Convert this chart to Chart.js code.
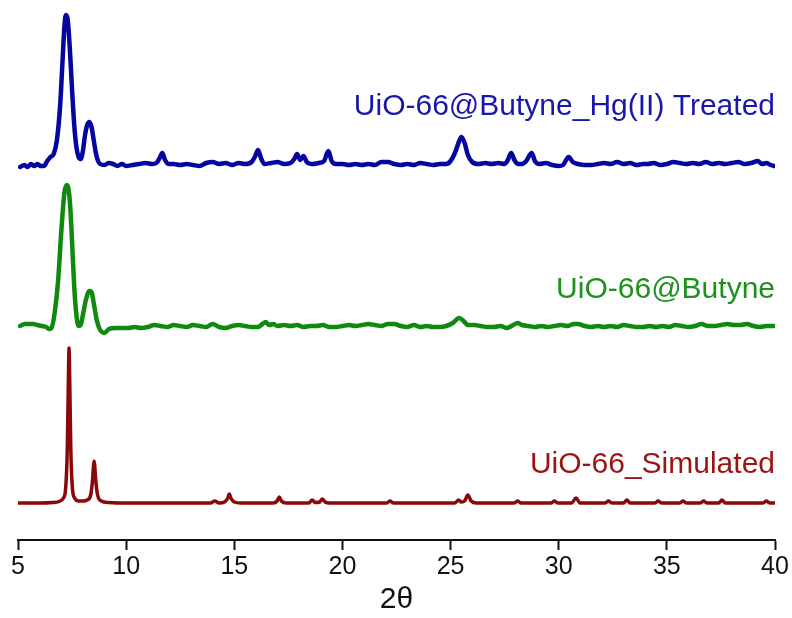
<!DOCTYPE html>
<html>
<head>
<meta charset="utf-8">
<script src="https://cdn.jsdelivr.net/npm/chart.js@4.4.1/dist/chart.umd.min.js"></script>
<style>
  html, body { margin: 0; padding: 0; background: #ffffff; }
  #wrap { width: 792px; height: 618px; position: relative; }
</style>
</head>
<body>
<div id="wrap"><canvas id="c" width="792" height="618"></canvas></div>
<script>
// ---- Data (2θ in degrees, intensity in arbitrary units above each trace's baseline) ----
const seriesNames = ["UiO-66@Butyne_Hg(II) Treated", "UiO-66@Butyne", "UiO-66_Simulated"];
const seriesOffsets = [375, 213, 37];
const labelLevels = [433, 250, 75];
const xTicks = [5, 10, 15, 20, 25, 30, 35, 40];

const treatedX = [5.1,5.3,5.45,5.6,5.75,5.9,6.05,6.2,6.35,6.5,6.65,6.8,6.95,7.05,7.15,7.22,7.3,7.4,7.5,7.6,7.7,7.8,7.9,8.0,8.1,8.2,8.3,8.4,8.5,8.6,8.7,8.8,9.0,9.2,9.4,9.6,9.8,10.0,10.3,10.6,10.9,11.2,11.4,11.55,11.67,11.8,11.95,12.2,12.5,12.8,13.1,13.4,13.7,14.0,14.3,14.6,14.9,15.2,15.5,15.8,15.95,16.1,16.25,16.4,16.7,17.0,17.3,17.6,17.8,17.9,18.05,18.2,18.35,18.6,18.9,19.15,19.35,19.5,19.7,20.0,20.3,20.6,20.9,21.2,21.5,21.8,22.1,22.4,22.7,23.0,23.3,23.6,23.9,24.2,24.5,24.8,25.0,25.2,25.4,25.5,25.65,25.8,26.0,26.3,26.6,26.9,27.2,27.5,27.65,27.8,27.95,28.1,28.3,28.5,28.75,28.9,29.1,29.4,29.7,30.0,30.2,30.46,30.65,30.9,31.2,31.5,31.8,32.1,32.4,32.7,33.0,33.3,33.6,33.9,34.1,34.4,34.7,35.0,35.3,35.6,35.9,36.2,36.5,36.8,37.1,37.4,37.7,38.0,38.3,38.6,38.9,39.2,39.4,39.6,39.8,39.95];
const treatedY = [-2,0,-2,1,-1,1,-1,-1,4,8,11,25,60,100,140,150,145,115,75,40,18,8,6,14,30,40,43,38,25,12,4,1,0,2,1,-1,1,-1,0,1,2,1,2,7,12,5,1,1,0,1,0,-1,2,3,1,2,0,2,1,3,8,15,6,1,2,3,1,2,7,11,5,9,3,1,2,4,14,4,1,1,0,1,0,1,0,3,3,1,0,1,0,2,1,0,1,1,4,12,24,28,22,10,3,1,2,1,2,1,5,12,5,1,1,4,12,4,1,2,0,-1,0,8,3,1,0,0,1,2,1,3,1,2,0,1,1,2,0,1,3,2,1,2,1,3,1,2,1,2,3,1,2,4,1,2,0,-1];

const butyneX = [5.1,5.3,5.5,5.7,5.9,6.1,6.3,6.45,6.55,6.7,6.85,7.0,7.15,7.27,7.4,7.5,7.6,7.7,7.8,7.9,8.0,8.15,8.3,8.4,8.5,8.65,8.8,9.0,9.2,9.5,9.8,10.1,10.4,10.7,11.0,11.3,11.6,11.9,12.2,12.5,12.8,13.1,13.4,13.7,14.0,14.3,14.6,14.9,15.2,15.5,15.8,16.1,16.3,16.45,16.6,16.8,17.0,17.3,17.6,17.9,18.2,18.5,18.8,19.1,19.4,19.7,20.0,20.3,20.6,20.9,21.2,21.5,21.8,22.1,22.4,22.7,23.0,23.3,23.6,23.9,24.2,24.5,24.8,25.1,25.4,25.6,25.8,26.1,26.4,26.7,27.0,27.3,27.6,27.9,28.1,28.3,28.6,28.9,29.2,29.5,29.8,30.1,30.4,30.7,30.9,31.2,31.5,31.8,32.1,32.4,32.7,33.0,33.3,33.6,33.9,34.2,34.5,34.8,35.1,35.4,35.7,36.0,36.3,36.6,36.9,37.2,37.5,37.8,38.1,38.4,38.7,39.0,39.3,39.6,39.95];
const butyneY = [1,3,3,3,2,1,0,-2,-1,15,45,95,135,142,125,85,40,12,1,2,12,28,36,35,24,6,-3,-6,-2,-1,-1,-1,0,-1,0,2,1,0,2,1,0,2,1,0,3,0,-1,1,2,1,0,0,3,5,2,3,1,2,1,2,0,1,1,2,0,0,1,2,1,2,3,2,1,3,3,1,0,2,0,1,0,0,1,4,9,6,2,2,1,0,0,1,-1,2,4,2,1,0,1,0,1,2,1,3,3,1,0,1,0,1,0,2,1,0,0,1,0,1,0,2,1,0,1,3,1,1,2,3,2,2,3,1,0,1,1];

const simX = [5.0,6.0,6.6,6.9,7.1,7.2,7.28,7.33,7.36,7.39,7.44,7.52,7.62,7.8,8.0,8.2,8.36,8.45,8.49,8.52,8.55,8.59,8.68,8.85,9.2,10.0,13.9,14.1,14.3,14.55,14.7,14.77,14.84,15.0,15.3,16.8,16.98,17.08,17.18,17.4,18.45,18.6,18.75,18.95,19.07,19.2,19.4,22.05,22.2,22.35,25.2,25.37,25.5,25.65,25.8,25.95,26.2,27.95,28.1,28.25,29.65,29.8,29.95,30.6,30.8,30.98,32.15,32.3,32.45,33.0,33.15,33.3,34.45,34.6,34.75,35.6,35.75,35.9,36.55,36.7,36.85,37.4,37.55,37.7,39.45,39.6,39.75,40.0];
const simY = [0,0,0.5,1.5,5,14,55,125,155,125,55,14,5,2,2,3,8,24,37,42,37,24,8,2,0.5,0,0,2,0,1,5,9,5,1,0,0,2,6,2,0,0,3,0.5,1,4,1,0,0,2,0,0,3,1,2,8,2,0,0,2,0,0,2,0,0,5,0,0,2,0,0,3,0,0,2,0,0,2,0,0,2,0,0,3,0,0,2,0,0];

const lineColors = ["#0505a0", "#0f8a0f", "#8b0808"];
const labelColors = ["#1818a8", "#1c921c", "#9a1414"];
const lineWidths = [4.5, 4.5, 3.5];

function build(xs, ys, off) { return xs.map((v, i) => ({ x: v, y: ys[i] + off })); }
const allX = [treatedX, butyneX, simX];
const allY = [treatedY, butyneY, simY];

const datasets = seriesNames.map((name, k) => ({
  label: name,
  data: build(allX[k], allY[k], seriesOffsets[k]),
  borderColor: lineColors[k],
  borderWidth: lineWidths[k],
  pointRadius: 0,
  fill: false,
  cubicInterpolationMode: 'monotone',
  borderJoinStyle: 'round',
  borderCapStyle: 'round'
}));

const seriesLabels = {
  id: 'seriesLabels',
  afterDatasetsDraw(chart) {
    const { ctx, scales } = chart;
    ctx.save();
    ctx.font = '30px "Liberation Sans", Arial, sans-serif';
    ctx.textAlign = 'right';
    ctx.textBaseline = 'middle';
    seriesNames.forEach((name, k) => {
      ctx.fillStyle = labelColors[k];
      ctx.fillText(name, scales.x.getPixelForValue(40), scales.y.getPixelForValue(labelLevels[k]));
    });
    ctx.restore();
  }
};

new Chart(document.getElementById('c'), {
  type: 'line',
  data: { datasets },
  options: {
    responsive: false,
    devicePixelRatio: 1,
    animation: false,
    events: [],
    layout: { padding: { left: 18, right: 17, top: 0, bottom: 0 } },
    plugins: { legend: { display: false }, tooltip: { enabled: false } },
    scales: {
      x: {
        type: 'linear',
        min: 5, max: 40,
        afterBuildTicks: (s) => { s.ticks = xTicks.map(v => ({ value: v })); },
        afterFit: (s) => { s.height = 78; },
        ticks: { color: '#111', font: { family: '"Liberation Sans", Arial, sans-serif', size: 25 }, padding: 2, maxRotation: 0 },
        grid: { drawOnChartArea: false, drawTicks: true, tickLength: 10, tickColor: '#111', tickWidth: 2 },
        border: { display: true, color: '#111', width: 2 },
        title: { display: true, text: '2θ', color: '#111', font: { family: '"Liberation Sans", Arial, sans-serif', size: 30 }, padding: { top: 0, bottom: 0 } }
      },
      y: { type: 'linear', display: false, min: 0, max: 540 }
    }
  },
  plugins: [seriesLabels]
});
</script>
</body>
</html>
